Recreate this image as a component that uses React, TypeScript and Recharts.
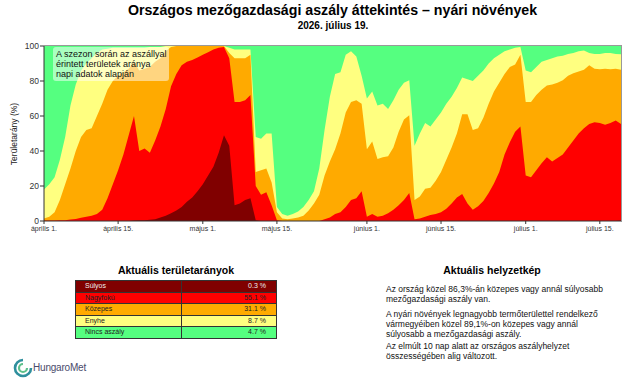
import React from 'react';
import { AreaChart, Area, XAxis, YAxis, CartesianGrid } from 'recharts';

// napi dátumok: 2026. április 1. – július 19.
const START = Date.UTC(2026, 3, 1);
const dates = Array.from({ length: 110 }, (_, i) =>
  new Date(START + i * 86400000).toISOString().slice(0, 10)
);

const tickDates = ['2026-04-01', '2026-04-15', '2026-05-01', '2026-05-15', '2026-06-01', '2026-06-15', '2026-07-01', '2026-07-15'];
const tickLabels = ['április 1.', 'április 15.', 'május 1.', 'május 15.', 'június 1.', 'június 15.', 'július 1.', 'július 15.'];

// kumulált területarányok (%): enyhe vagy súlyosabb
const enyheVagySulyosabb = [
  18, 21, 25, 35, 48, 66, 78, 86, 90, 93,
  96, 98, 98.5, 99, 99, 99, 99, 99, 99, 99,
  99.5, 99.5, 99.5, 100, 100, 100, 100, 100, 100, 100,
  100, 100, 100, 100, 100, 99, 98, 98, 98, 98,
  48, 47, 50, 50, 8, 4, 3, 4, 5.5, 8,
  12, 17, 30, 52, 71, 84, 85, 95, 97, 94,
  83, 70, 74, 66, 67, 64, 69, 75, 79, 80.5,
  43, 50, 56, 54, 58, 62, 67, 71, 76, 82,
  81, 80, 83, 86, 90, 93, 95, 97, 98, 99,
  99.5, 86, 85, 88, 91, 92, 93, 94, 94.5, 95.5,
  96, 97, 97.5, 96, 95.5, 95.5, 96, 96, 95.5, 95.3,
];

// közepes vagy súlyosabb
const kozepesVagySulyosabb = [
  1.5, 2.5, 5, 12, 21, 30, 40, 48, 52, 53,
  60, 67, 75, 80, 83, 85, 87, 91, 86, 87,
  88, 91, 93, 97, 99.5, 100, 100, 100, 100, 100,
  100, 100, 100, 100, 100, 96, 93, 93, 93, 95,
  28, 29, 30, 22, 5, 1.5, 1, 1.5, 2, 3,
  6, 10, 15, 26, 34, 41, 50, 62, 68, 69,
  67, 41, 45.5, 35.5, 36.5, 37, 42, 51, 58, 60.5,
  12, 14, 18.5, 19, 23, 28, 35, 42, 50, 61,
  61, 52, 53, 59, 67, 74, 79, 84, 88, 89.5,
  95, 68, 68, 72, 75, 77.5, 78, 79, 80.5, 83,
  84.5, 85.5, 86.5, 89, 87, 86.7, 87, 86.7, 87, 86.5,
];

// nagyfokú vagy súlyosabb
const nagyfokuVagySulyosabb = [
  0.3, 0.3, 0.3, 0.5, 0.5, 0.8, 1.2, 1.8, 2.5, 3,
  4, 6.5, 13, 21, 29, 38, 49, 60, 40, 41.5,
  39, 46, 54, 64, 77, 84, 89, 91, 92, 93.5,
  95, 96.5, 98, 99, 99.5, 93, 68, 68, 69, 72,
  20, 15, 16.5, 9, 0.5, 0, 0, 0, 0, 0,
  0, 0, 0, 1, 2, 4, 5, 8, 12, 13,
  17, 2.5, 4, 2.5, 3, 4.5, 6.5, 9, 12, 16,
  1, 1.5, 2.5, 3.5, 4, 5, 7, 10, 13.5, 15.5,
  10, 6.5, 8.5, 11.5, 16, 21.5, 28, 38, 45, 51,
  54, 26, 25, 29, 33, 36.5, 34, 36, 38, 42,
  46, 50, 53, 55.5, 56.5, 56, 55, 56, 57.5, 55.5,
];

// súlyos
const sulyos = [
  0, 0, 0, 0, 0, 0, 0, 0, 0, 0,
  0, 0, 0, 0, 0, 0, 0, 0.3, 0.5, 0.5,
  0.7, 1, 2, 3, 4.5, 6, 8, 11, 13.5, 17,
  21, 26, 31, 39, 49, 43, 9, 10, 12, 13,
  0.5, 0, 0, 0, 0, 0, 0, 0, 0, 0,
  0, 0, 0, 0, 0, 0, 0, 0, 0, 0,
  0, 0, 0, 0, 0, 0, 0, 0, 0, 0,
  0, 0, 0, 0, 0, 0, 0, 0, 0, 0,
  0, 0, 0, 0, 0, 0, 0, 0, 0, 0,
  0, 0, 0, 0, 0, 0, 0, 0, 0, 0,
  0, 0, 0, 0, 0, 0, 0, 0, 0, 0.3,
];

const tableLabels = ['Súlyos', 'Nagyfokú', 'Közepes', 'Enyhe', 'Nincs aszály'];
const tableValues = ['0.3 %', '55.1 %', '31.1 %', '8.7 %', '4.7 %'];

const GREEN = '#55ff80';
const YELLOW = '#ffff80';
const ORANGE = '#ffaa00';
const RED = '#ff0000';
const DARKRED = '#800000';
const tableColors = [DARKRED, RED, ORANGE, YELLOW, GREEN];

const data = dates.map((date, i) => ({
  date,
  enyhe: enyheVagySulyosabb[i],
  kozepes: kozepesVagySulyosabb[i],
  nagyfoku: nagyfokuVagySulyosabb[i],
  sulyos: sulyos[i],
}));

const FONT = '"Liberation Sans", Arial, sans-serif';

const App = () => {
  return (
    <div style={{ position: 'absolute', left: 0, top: 0, width: 640, height: 384, background: '#fff', fontFamily: FONT, color: '#000', overflow: 'hidden' }}>
      <div style={{ position: 'absolute', left: 0, width: 640, top: 2, textAlign: 'center', fontSize: 14.2, fontWeight: 'bold', paddingLeft: 25, boxSizing: 'border-box' }}>
        Országos mezőgazdasági aszály áttekintés – nyári növények
      </div>
      <div style={{ position: 'absolute', left: 0, width: 640, top: 20, textAlign: 'center', fontSize: 10, fontWeight: 'bold', paddingLeft: 26, boxSizing: 'border-box' }}>
        2026. július 19.
      </div>

      <div style={{ position: 'absolute', left: 0, top: 0 }}>
        <AreaChart width={640} height={240} data={data} margin={{ top: 46, right: 19, bottom: 5, left: 14 }}>
          <CartesianGrid fill={GREEN} horizontal={false} vertical={false} />
          <XAxis
            dataKey="date"
            ticks={tickDates}
            interval={0}
            tickFormatter={(d) => tickLabels[tickDates.indexOf(d)]}
            height={14}
            tickSize={3}
            tickMargin={2}
            stroke="#333"
            tick={{ fontSize: 7, fill: '#333', fontFamily: FONT }}
          />
          <YAxis
            type="number"
            domain={[0, 100]}
            ticks={[0, 20, 40, 60, 80, 100]}
            width={30}
            tickSize={4}
            tickMargin={1}
            stroke="#333"
            tick={{ fontSize: 8.5, fill: '#333', fontFamily: FONT }}
          />
          <Area type="linear" dataKey="enyhe" stroke="none" fill={YELLOW} fillOpacity={1} isAnimationActive={false} dot={false} activeDot={false} />
          <Area type="linear" dataKey="kozepes" stroke="none" fill={ORANGE} fillOpacity={1} isAnimationActive={false} dot={false} activeDot={false} />
          <Area type="linear" dataKey="nagyfoku" stroke="none" fill={RED} fillOpacity={1} isAnimationActive={false} dot={false} activeDot={false} />
          <Area type="linear" dataKey="sulyos" stroke="none" fill={DARKRED} fillOpacity={1} isAnimationActive={false} dot={false} activeDot={false} />
        </AreaChart>
      </div>

      {/* keret felül és jobbra */}
      <div style={{ position: 'absolute', left: 44, top: 45, width: 577, height: 176, borderTop: '1px solid #999', borderRight: '1px solid #999', pointerEvents: 'none' }} />

      <div style={{ position: 'absolute', left: 14, top: 134, transform: 'translate(-50%, -50%) rotate(-90deg)', fontSize: 8.5, whiteSpace: 'nowrap', color: '#222' }}>
        Területarány (%)
      </div>

      <div style={{ position: 'absolute', left: 53, top: 47, width: 116, height: 34, background: 'rgba(255,255,255,0.5)', borderRadius: 3, padding: '2px 0 0 3px', boxSizing: 'border-box', fontSize: 9, lineHeight: '10px', color: '#111', whiteSpace: 'nowrap' }}>
        A szezon során az aszállyal<br />érintett területek aránya<br />napi adatok alapján
      </div>

      {/* táblázat */}
      <div style={{ position: 'absolute', left: 75, top: 264, width: 202, textAlign: 'center', fontSize: 10.5, fontWeight: 'bold' }}>
        Aktuális területarányok
      </div>
      <table style={{ position: 'absolute', left: 75, top: 280, width: 202, borderCollapse: 'collapse', fontSize: 7, fontFamily: FONT }}>
        <tbody>
          {tableLabels.map((label, i) => (
            <tr key={label} style={{ background: tableColors[i], height: 11.5, color: i === 0 ? '#eee' : '#222' }}>
              <td style={{ border: '1px solid #333', padding: '0 0 0 9px', width: 96, lineHeight: '10px' }}>{label}</td>
              <td style={{ border: '1px solid #333', padding: '0 10px 0 0', textAlign: 'right', lineHeight: '10px' }}>{tableValues[i]}</td>
            </tr>
          ))}
        </tbody>
      </table>

      {/* helyzetkép */}
      <div style={{ position: 'absolute', left: 386, top: 264, width: 212, textAlign: 'center', fontSize: 10.5, fontWeight: 'bold' }}>
        Aktuális helyzetkép
      </div>
      <div style={{ position: 'absolute', left: 386, top: 284, width: 250, fontSize: 8.5, lineHeight: '10px', color: '#111' }}>
        <div>Az ország közel 86,3%-án közepes vagy annál súlyosabb<br />mezőgazdasági aszály van.</div>
        <div style={{ marginTop: 5 }}>A nyári növények legnagyobb termőterülettel rendelkező<br />vármegyéiben közel 89,1%-on közepes vagy annál<br />súlyosabb a mezőgazdasági aszály.</div>
        <div style={{ marginTop: 2 }}>Az elmúlt 10 nap alatt az országos aszályhelyzet<br />összességében alig változott.</div>
      </div>

      {/* logó */}
      <svg style={{ position: 'absolute', left: 12, top: 357 }} width={22} height={22} viewBox="0 0 22 22">
        <path d="M11 3 A8 8 0 1 0 19 11" fill="none" stroke="#2f8f9d" strokeWidth={2.6} />
        <path d="M11 7 A4 4 0 1 0 15 11" fill="none" stroke="#5cc08a" strokeWidth={2.2} />
      </svg>
      <div style={{ position: 'absolute', left: 33, top: 362, fontSize: 10, color: '#4b4b6b', letterSpacing: -0.2 }}>
        HungaroMet
      </div>
    </div>
  );
};

export default App;
